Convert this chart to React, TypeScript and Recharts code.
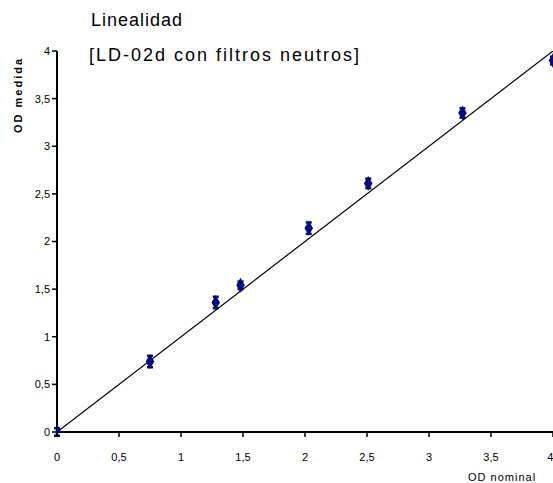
import React from 'react';
import { ScatterChart, Scatter, XAxis, YAxis, ZAxis, ErrorBar } from 'recharts';

const nominalOD = [0, 0.75, 1.28, 1.48, 2.03, 2.51, 3.27, 4.0];
const measuredOD = [0, 0.74, 1.36, 1.54, 2.14, 2.61, 3.35, 3.9];
const measuredErr = [0.04, 0.06, 0.06, 0.04, 0.06, 0.05, 0.05, 0.04];
const fitX = [0, 4.1];
const fitY = [0, 4.1];
const axisTicks = [0, 0.5, 1, 1.5, 2, 2.5, 3, 3.5, 4];

const points = nominalOD.map((x, i) => ({ x, y: measuredOD[i], err: measuredErr[i] }));
const fitLine = fitX.map((x, i) => ({ x, y: fitY[i] }));

const fmt = (v: number) => String(v).replace('.', ',');
const font = '"Liberation Sans", Arial, sans-serif';

const App: React.FC = () => {
  return (
    <div style={{ position: 'absolute', left: 0, top: 0, width: 553, height: 483, background: '#fff', fontFamily: font }}>
      <ScatterChart width={553} height={483} margin={{ top: 51, right: 0, bottom: 0, left: 0 }}>
        <XAxis
          type="number"
          dataKey="x"
          domain={[0, 4]}
          ticks={axisTicks}
          tickFormatter={fmt}
          height={51}
          tickSize={5}
          tickMargin={16}
          axisLine={{ stroke: '#000', strokeWidth: 2 }}
          tickLine={{ stroke: '#000', strokeWidth: 1.5 }}
          tick={{ fill: '#000', fontSize: 11, fontFamily: font }}
          allowDataOverflow
        />
        <YAxis
          type="number"
          dataKey="y"
          domain={[0, 4]}
          ticks={axisTicks}
          tickFormatter={fmt}
          width={57}
          tickSize={5}
          tickMargin={2}
          axisLine={{ stroke: '#000', strokeWidth: 2 }}
          tickLine={{ stroke: '#000', strokeWidth: 1.5 }}
          tick={{ fill: '#000', fontSize: 11, fontFamily: font }}
          allowDataOverflow
        />
        <ZAxis range={[55, 55]} />
        <Scatter
          data={fitLine}
          line={{ stroke: '#000', strokeWidth: 1.2 }}
          shape={() => <g />}
          isAnimationActive={false}
        />
        <Scatter data={points} fill="#0a0a80" shape="diamond" isAnimationActive={false}>
          <ErrorBar dataKey="err" direction="y" width={3} stroke="#0a0a80" strokeWidth={2.5} />
        </Scatter>
      </ScatterChart>
      <div style={{ position: 'absolute', left: 91, top: 10, fontSize: 18, letterSpacing: 1, color: '#000' }}>
        Linealidad
      </div>
      <div style={{ position: 'absolute', left: 89, top: 45, fontSize: 18, letterSpacing: 2, color: '#000' }}>
        [LD-02d con filtros neutros]
      </div>
      <div
        style={{
          position: 'absolute',
          left: 18,
          top: 95,
          transform: 'translate(-50%, -50%) rotate(-90deg)',
          fontSize: 11,
          fontWeight: 'bold',
          letterSpacing: 2,
          whiteSpace: 'nowrap',
          color: '#000',
        }}
      >
        OD medida
      </div>
      <div style={{ position: 'absolute', left: 468, top: 471, fontSize: 11, letterSpacing: 1, color: '#000', whiteSpace: 'nowrap' }}>
        OD nominal
      </div>
    </div>
  );
};

export default App;
